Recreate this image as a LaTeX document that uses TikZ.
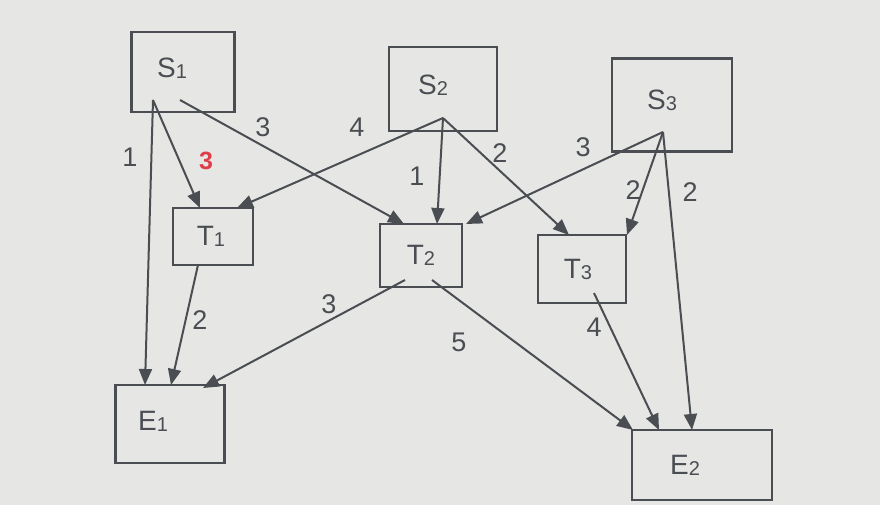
\documentclass[tikz,border=0pt]{standalone}
\usepackage{fontspec}
\setmainfont{Liberation Sans}
\usetikzlibrary{arrows.meta}
\definecolor{bg}{RGB}{230,230,228}
\definecolor{ink}{RGB}{74,78,82}
\definecolor{redlbl}{RGB}{222,62,72}
% #1 letter, #2 index, #3 left shift (pt), #4 raise (pt)
\newcommand{\nm}[4]{\raisebox{#4}{#1\raisebox{-1pt}{\fontsize{20}{20}\selectfont #2}}\kern#3}
\begin{document}
\begin{tikzpicture}[x=1pt,y=-1pt,
  box/.style={draw=ink,line width=2.2pt,fill=none,inner sep=0pt,text=ink,font=\fontsize{28}{28}\selectfont},
  conn/.style={draw=ink,line width=2pt,-{Triangle[length=16pt,width=13pt]}},
  wt/.style={text=ink,font=\fontsize{27}{27}\selectfont,inner sep=0pt}]
\fill[bg] (0,0) rectangle (880,505);
\useasboundingbox (0,0) rectangle (880,505);
% boxes
\node[box,minimum width=103pt,minimum height=80pt] (S1) at (183,72) {\nm{S}{1}{22pt}{8pt}};
\node[box,minimum width=108pt,minimum height=84pt] (S2) at (443,89) {\nm{S}{2}{20pt}{8pt}};
\node[box,minimum width=120pt,minimum height=93pt] (S3) at (672,105) {\nm{S}{3}{20pt}{10pt}};
\node[box,minimum width=80pt,minimum height=57pt] (T1) at (213,236.5) {\nm{T}{1}{4pt}{-8pt}};
\node[box,minimum width=82pt,minimum height=63pt] (T2) at (421,255.5) {\nm{T}{2}{0pt}{-4pt}};
\node[box,minimum width=88pt,minimum height=68pt] (T3) at (582,269) {\nm{T}{3}{8pt}{-4pt}};
\node[box,minimum width=109pt,minimum height=78pt] (E1) at (170,424) {\nm{E}{1}{34pt}{6pt}};
\node[box,minimum width=140pt,minimum height=70pt] (E2) at (702,465) {\nm{E}{2}{34pt}{-2pt}};
% ports
\coordinate (s1a) at (153,100);
\coordinate (s1b) at (180,100);
\coordinate (s2a) at (443,118);
\coordinate (s3a) at (663,132);
\coordinate (t1a) at (198,265);
\coordinate (t2a) at (405,280);
\coordinate (t2b) at (432,280);
\coordinate (t3a) at (594,293);
\coordinate (t1n1) at (200,208);
\coordinate (t1n2) at (237,208);
\coordinate (t2n1) at (404,224);
\coordinate (t2n2) at (437,224);
\coordinate (t2n3) at (466,224);
\coordinate (t3n1) at (569,235);
\coordinate (t3n2) at (627,235);
\coordinate (e1a) at (145,385);
\coordinate (e1b) at (171,385);
\coordinate (e1c) at (203,388);
\coordinate (e2a) at (633,430);
\coordinate (e2b) at (659,430);
\coordinate (e2c) at (692,430);
% connectors
\draw[conn] (s1a) -- (e1a);
\draw[conn] (s1a) -- (t1n1);
\draw[conn] (s1b) -- (t2n1);
\draw[conn] (s2a) -- (t1n2);
\draw[conn] (s2a) -- (t2n2);
\draw[conn] (s2a) -- (t3n1);
\draw[conn] (s3a) -- (t2n3);
\draw[conn] (s3a) -- (t3n2);
\draw[conn] (s3a) -- (e2c);
\draw[conn] (t1a) -- (e1b);
\draw[conn] (t2a) -- (e1c);
\draw[conn] (t2b) -- (e2a);
\draw[conn] (t3a) -- (e2b);
% weights
\node[wt] (w1) at (130,157) {1};
\node[wt,text=redlbl,font=\fontsize{25}{25}\selectfont\bfseries] (w2) at (206,161) {3};
\node[wt] (w3) at (263,127) {3};
\node[wt] (w4) at (357,127) {4};
\node[wt] (w5) at (417,176) {1};
\node[wt] (w6) at (500,153) {2};
\node[wt] (w7) at (583,147) {3};
\node[wt] (w8) at (633,190) {2};
\node[wt] (w9) at (690,192) {2};
\node[wt] (w10) at (200,320) {2};
\node[wt] (w11) at (329,304) {3};
\node[wt] (w12) at (459,342) {5};
\node[wt] (w13) at (594,327) {4};
\end{tikzpicture}
\end{document}
